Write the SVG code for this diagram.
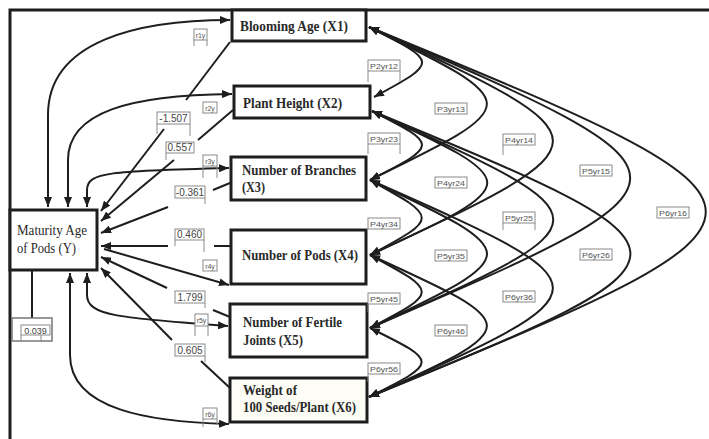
<svg xmlns="http://www.w3.org/2000/svg" width="709" height="439" viewBox="0 0 709 439">
<style>
.box{fill:#fff;stroke:#1e1e1e;stroke-width:3}
.nt{font-family:"Liberation Serif","Times New Roman",serif;font-weight:bold;font-size:15px;fill:#2a2a2a}
.yt{font-family:"Liberation Serif","Times New Roman",serif;font-size:14px;fill:#2a2a2a}
.ln{fill:none;stroke:#1e1e1e;stroke-width:2}
.cv{fill:none;stroke:#1e1e1e;stroke-width:2;marker-start:url(#ah);marker-end:url(#ah)}
.ar{fill:none;stroke:#1e1e1e;stroke-width:2;marker-end:url(#ah)}
.lb{fill:#fff;stroke:#8a8a8a;stroke-width:1}
.lt{font-family:"Liberation Sans",Arial,sans-serif;font-size:8px;fill:#555}
.vt{font-family:"Liberation Sans",Arial,sans-serif;font-size:10px;fill:#444}
.tk{stroke:#8a8a8a;stroke-width:1;fill:none}
</style>
<defs>
<marker id="ah" markerUnits="userSpaceOnUse" markerWidth="11" markerHeight="8" refX="10" refY="4" orient="auto-start-reverse" viewBox="0 0 11 8">
<path d="M0,0 L10,4 L0,8 z" fill="#1e1e1e"/>
</marker>
</defs>
<rect width="709" height="439" fill="#fff"/>
<!-- frame -->
<path d="M10,439 L10,10 L709,10" fill="none" stroke="#1e1e1e" stroke-width="3"/>

<g id="connectors">
<!-- right-side correlation curves -->
<path class="cv" d="M369,27 C439,62 439,62 374,97"/>
<path class="cv" d="M372,111 C439,145 439,145 370,180"/>
<path class="cv" d="M370,180 C439,218 439,218 370,255"/>
<path class="cv" d="M370,255 C439,292 439,292 370,328"/>
<path class="cv" d="M370,328 C439,362 439,362 369,397"/>
<path class="cv" d="M369,27 C526,104 526,104 370,180"/>
<path class="cv" d="M372,111 C526,183 526,183 370,255"/>
<path class="cv" d="M370,180 C526,254 526,254 370,328"/>
<path class="cv" d="M370,255 C526,326 526,326 369,397"/>
<path class="cv" d="M369,27 C614,141 614,141 370,255"/>
<path class="cv" d="M372,111 C614,220 614,220 370,328"/>
<path class="cv" d="M370,180 C614,288 614,288 369,397"/>
<path class="cv" d="M369,27 C717,178 717,178 370,328"/>
<path class="cv" d="M372,111 C717,254 717,254 369,397"/>
<path class="cv" d="M369,27 C818,212 818,212 369,397"/>
<!-- left-side correlation curves -->
<path class="cv" d="M48,207 L48,115 C48,40 140,20 230,20"/>
<path class="cv" d="M68,207 L68,160 C68,112 130,95 232,94"/>
<path class="cv" d="M87,207 L87,190 C87,172 110,171 229,168"/>
<path class="cv" d="M87,273 L87,295 C87,316 120,318 228,326"/>
<path class="cv" d="M70,273 L70,355 C70,410 150,422 229,424"/>
<path class="ar" d="M104,249 L229,285"/>
<!-- path coefficients -->
<path class="ln" d="M230,42 L186,100"/>
<path class="ar" d="M164,129 L101,211"/>
<path class="ln" d="M233,110 L198,140"/>
<path class="ar" d="M174,160 L101,221"/>
<path class="ln" d="M230,183 L213,190"/>
<path class="ar" d="M168,207 L101,233"/>
<path class="ln" d="M230,246 L214,246"/>
<path class="ar" d="M168,246 L101,246"/>
<path class="ln" d="M230,317 L213,310"/>
<path class="ar" d="M167,288 L101,257"/>
<path class="ln" d="M230,388 L201,361"/>
<path class="ar" d="M172,340 L101,268"/>
<!-- error term -->
<path class="ln" d="M32,271 L32,318"/>
</g>

<g id="Y"><rect class="box" x="10" y="210" width="87" height="60"/>
<text class="yt" x="17" y="235" textLength="70" lengthAdjust="spacingAndGlyphs">Maturity Age</text>
<text class="yt" x="17" y="253" textLength="59" lengthAdjust="spacingAndGlyphs">of Pods (Y)</text></g>
<g id="X1"><rect class="box" x="232" y="10" width="134" height="31"/>
<text class="nt" x="240" y="31" textLength="108" lengthAdjust="spacingAndGlyphs">Blooming Age  (X1)</text></g>
<g id="X2"><rect class="box" x="234" y="86" width="136" height="32"/>
<text class="nt" x="243" y="108" textLength="99" lengthAdjust="spacingAndGlyphs">Plant Height (X2)</text></g>
<g id="X3"><rect class="box" x="231" y="157" width="135" height="43"/>
<text class="nt" x="242" y="175" textLength="114" lengthAdjust="spacingAndGlyphs">Number of Branches</text>
<text class="nt" x="242" y="192" textLength="23" lengthAdjust="spacingAndGlyphs">(X3)</text></g>
<g id="X4"><rect class="box" x="231" y="230" width="135" height="54"/>
<text class="nt" x="242" y="260" textLength="116" lengthAdjust="spacingAndGlyphs">Number of Pods (X4)</text></g>
<g id="X5"><rect class="box" x="230" y="304" width="137" height="53"/>
<text class="nt" x="243" y="327" textLength="99" lengthAdjust="spacingAndGlyphs">Number of Fertile</text>
<text class="nt" x="243" y="345" textLength="60" lengthAdjust="spacingAndGlyphs">Joints (X5)</text></g>
<g id="X6"><rect class="box" x="230" y="378" width="137" height="44" style="fill:#fdfdf6"/>
<text class="nt" x="243" y="395" textLength="54" lengthAdjust="spacingAndGlyphs">Weight of</text>
<text class="nt" x="243" y="412" textLength="113" lengthAdjust="spacingAndGlyphs">100 Seeds/Plant (X6)</text></g>

<g id="labels">
<!-- path coefficient labels -->
<rect class="lb" x="157" y="112" width="33" height="12"/><path class="tk" d="M157,124 V134 M190,124 V136"/>
<text class="vt" x="173.5" y="122" text-anchor="middle">-1.507</text>
<rect class="lb" x="166" y="142" width="28" height="11"/><path class="tk" d="M166,153 V160"/>
<text class="vt" x="180" y="151" text-anchor="middle">0.557</text>
<rect class="lb" x="175" y="186" width="30" height="12"/><path class="tk" d="M205,198 V204"/>
<text class="vt" x="190" y="196" text-anchor="middle">-0.361</text>
<rect class="lb" x="175" y="229" width="29" height="11"/><path class="tk" d="M175,240 V246 M204,240 V252"/>
<text class="vt" x="189.5" y="238" text-anchor="middle">0.460</text>
<rect class="lb" x="175" y="291" width="30" height="12"/><path class="tk" d="M205,303 V308"/>
<text class="vt" x="190" y="301" text-anchor="middle">1.799</text>
<rect class="lb" x="175" y="344" width="30" height="12"/><path class="tk" d="M205,356 V362"/>
<text class="vt" x="190" y="354" text-anchor="middle">0.605</text>
<!-- error term -->
<rect x="12" y="318" width="40" height="23" fill="#fff" stroke="#777" stroke-width="1.5"/>
<rect class="lb" x="21" y="325" width="29" height="10"/><path class="tk" d="M21,335 V342 M41,335 V342"/>
<text class="vt" x="35.5" y="333.5" text-anchor="middle" style="font-size:9px">0.039</text>
<!-- r labels -->
<rect class="lb" x="194" y="29" width="13" height="11"/><path class="tk" d="M194,40 V46 M207,40 V46"/><text class="lt" x="200.5" y="37.5" text-anchor="middle" style="font-size:7px">r1y</text>
<rect class="lb" x="203" y="102" width="14" height="11"/><text class="lt" x="210" y="110.5" text-anchor="middle" style="font-size:7px">r2y</text>
<rect class="lb" x="203" y="155" width="14" height="11"/><path class="tk" d="M203,166 V178 M217,166 V178"/><text class="lt" x="210" y="163.5" text-anchor="middle" style="font-size:7px">r3y</text>
<rect class="lb" x="203" y="260" width="14" height="11"/><text class="lt" x="210" y="268.5" text-anchor="middle" style="font-size:7px">r4y</text>
<rect class="lb" x="195" y="314" width="13" height="12"/><path class="tk" d="M195,326 V336 M208,326 V336"/><text class="lt" x="201.5" y="323" text-anchor="middle" style="font-size:7px">r5y</text>
<rect class="lb" x="203" y="408" width="14" height="11"/><path class="tk" d="M203,419 V427 M217,419 V425"/><text class="lt" x="210" y="416.5" text-anchor="middle" style="font-size:7px">r6y</text>
<!-- P labels -->
<rect class="lb" x="368" y="60" width="32" height="11"/><path class="tk" d="M368,71 V82 M400,71 V82"/><text class="lt" x="384" y="68.5" text-anchor="middle" textLength="28" lengthAdjust="spacingAndGlyphs">P2yr12</text>
<rect class="lb" x="368" y="133" width="32" height="11"/><path class="tk" d="M368,144 V154 M400,144 V154"/><text class="lt" x="384" y="141.5" text-anchor="middle" textLength="28" lengthAdjust="spacingAndGlyphs">P3yr23</text>
<rect class="lb" x="368" y="218" width="32" height="11"/><text class="lt" x="384" y="226.5" text-anchor="middle" textLength="28" lengthAdjust="spacingAndGlyphs">P4yr34</text>
<rect class="lb" x="368" y="293" width="32" height="11"/><path class="tk" d="M368,304 V312"/><text class="lt" x="384" y="301.5" text-anchor="middle" textLength="28" lengthAdjust="spacingAndGlyphs">P5yr45</text>
<rect class="lb" x="368" y="363" width="32" height="11"/><path class="tk" d="M368,374 V382"/><text class="lt" x="384" y="371.5" text-anchor="middle" textLength="28" lengthAdjust="spacingAndGlyphs">P6yr56</text>
<rect class="lb" x="435" y="103" width="32" height="11"/><text class="lt" x="451" y="111.5" text-anchor="middle" textLength="28" lengthAdjust="spacingAndGlyphs">P3yr13</text>
<rect class="lb" x="435" y="177" width="32" height="11"/><text class="lt" x="451" y="185.5" text-anchor="middle" textLength="28" lengthAdjust="spacingAndGlyphs">P4yr24</text>
<rect class="lb" x="435" y="250" width="32" height="11"/><text class="lt" x="451" y="258.5" text-anchor="middle" textLength="28" lengthAdjust="spacingAndGlyphs">P5yr35</text>
<rect class="lb" x="435" y="325" width="32" height="11"/><text class="lt" x="451" y="333.5" text-anchor="middle" textLength="28" lengthAdjust="spacingAndGlyphs">P6yr46</text>
<rect class="lb" x="503" y="134" width="32" height="11"/><path class="tk" d="M503,145 V155"/><text class="lt" x="519" y="142.5" text-anchor="middle" textLength="28" lengthAdjust="spacingAndGlyphs">P4yr14</text>
<rect class="lb" x="503" y="212" width="32" height="11"/><path class="tk" d="M503,223 V230 M535,223 V230"/><text class="lt" x="519" y="220.5" text-anchor="middle" textLength="28" lengthAdjust="spacingAndGlyphs">P5yr25</text>
<rect class="lb" x="503" y="291" width="32" height="11"/><text class="lt" x="519" y="299.5" text-anchor="middle" textLength="28" lengthAdjust="spacingAndGlyphs">P6yr36</text>
<rect class="lb" x="580" y="165" width="32" height="11"/><text class="lt" x="596" y="173.5" text-anchor="middle" textLength="28" lengthAdjust="spacingAndGlyphs">P5yr15</text>
<rect class="lb" x="580" y="249" width="32" height="11"/><text class="lt" x="596" y="257.5" text-anchor="middle" textLength="28" lengthAdjust="spacingAndGlyphs">P6yr26</text>
<rect class="lb" x="657" y="207" width="32" height="11"/><text class="lt" x="673" y="215.5" text-anchor="middle" textLength="28" lengthAdjust="spacingAndGlyphs">P6yr16</text>
</g>
</svg>
